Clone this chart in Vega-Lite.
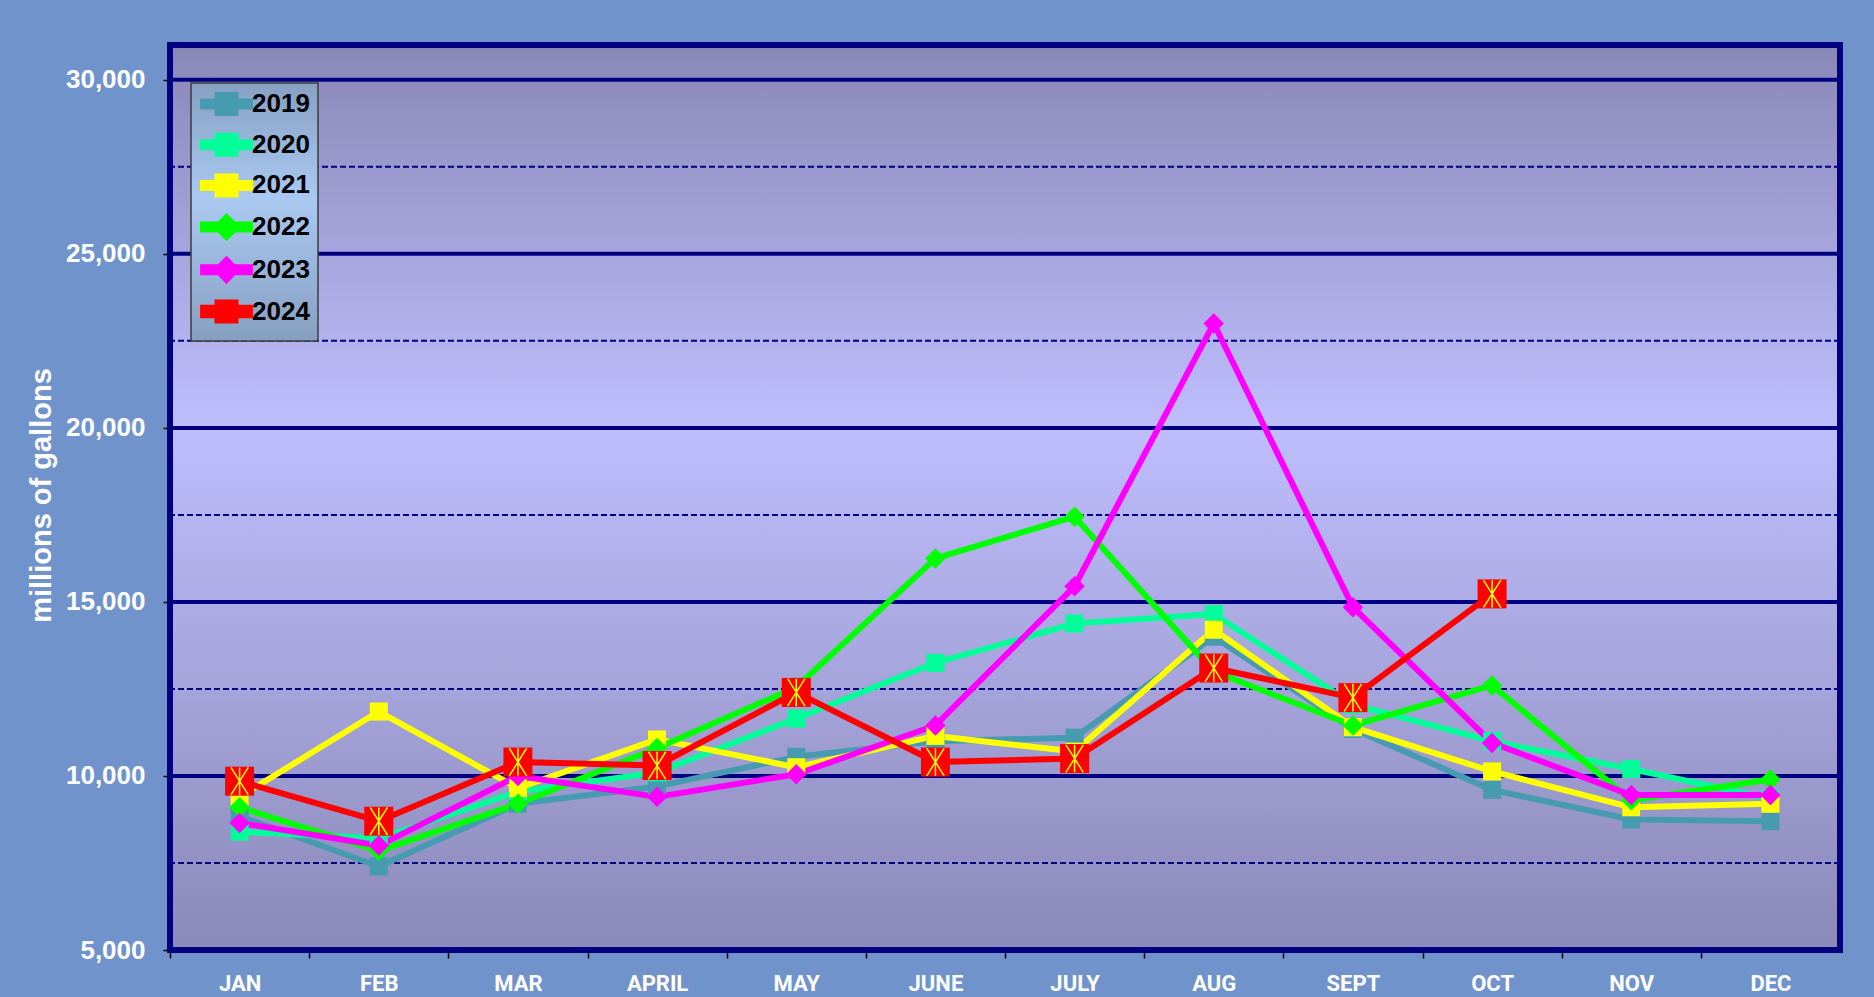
{
  "$schema": "https://vega.github.io/schema/vega-lite/v6.json",
  "width": 1670,
  "height": 905,
  "autosize": {"type": "none"},
  "padding": {"left": 170, "top": 45, "right": 34, "bottom": 47},
  "background": "#7093cc",
  "config": {"view": {"stroke": null}, "font": "Liberation Sans"},
  "datasets": {
    "water": [
      {"month": "JAN", "year": "2019", "value": 8850},
      {"month": "FEB", "year": "2019", "value": 7400},
      {"month": "MAR", "year": "2019", "value": 9200},
      {"month": "APRIL", "year": "2019", "value": 9700},
      {"month": "MAY", "year": "2019", "value": 10550},
      {"month": "JUNE", "year": "2019", "value": 11000},
      {"month": "JULY", "year": "2019", "value": 11100},
      {"month": "AUG", "year": "2019", "value": 14000},
      {"month": "SEPT", "year": "2019", "value": 11350},
      {"month": "OCT", "year": "2019", "value": 9600},
      {"month": "NOV", "year": "2019", "value": 8750},
      {"month": "DEC", "year": "2019", "value": 8700},
      {"month": "JAN", "year": "2020", "value": 8400},
      {"month": "FEB", "year": "2020", "value": 8200},
      {"month": "MAR", "year": "2020", "value": 9550},
      {"month": "APRIL", "year": "2020", "value": 10100},
      {"month": "MAY", "year": "2020", "value": 11650},
      {"month": "JUNE", "year": "2020", "value": 13250},
      {"month": "JULY", "year": "2020", "value": 14380},
      {"month": "AUG", "year": "2020", "value": 14650},
      {"month": "SEPT", "year": "2020", "value": 12050},
      {"month": "OCT", "year": "2020", "value": 11000},
      {"month": "NOV", "year": "2020", "value": 10200},
      {"month": "DEC", "year": "2020", "value": 9350},
      {"month": "JAN", "year": "2021", "value": 9400},
      {"month": "FEB", "year": "2021", "value": 11850},
      {"month": "MAR", "year": "2021", "value": 9650},
      {"month": "APRIL", "year": "2021", "value": 11050},
      {"month": "MAY", "year": "2021", "value": 10250},
      {"month": "JUNE", "year": "2021", "value": 11150},
      {"month": "JULY", "year": "2021", "value": 10700},
      {"month": "AUG", "year": "2021", "value": 14200},
      {"month": "SEPT", "year": "2021", "value": 11400},
      {"month": "OCT", "year": "2021", "value": 10130},
      {"month": "NOV", "year": "2021", "value": 9100},
      {"month": "DEC", "year": "2021", "value": 9200},
      {"month": "JAN", "year": "2022", "value": 9100},
      {"month": "FEB", "year": "2022", "value": 7850},
      {"month": "MAR", "year": "2022", "value": 9200},
      {"month": "APRIL", "year": "2022", "value": 10800},
      {"month": "MAY", "year": "2022", "value": 12550},
      {"month": "JUNE", "year": "2022", "value": 16250},
      {"month": "JULY", "year": "2022", "value": 17450},
      {"month": "AUG", "year": "2022", "value": 13000},
      {"month": "SEPT", "year": "2022", "value": 11450},
      {"month": "OCT", "year": "2022", "value": 12600},
      {"month": "NOV", "year": "2022", "value": 9300},
      {"month": "DEC", "year": "2022", "value": 9900},
      {"month": "JAN", "year": "2023", "value": 8650},
      {"month": "FEB", "year": "2023", "value": 8000},
      {"month": "MAR", "year": "2023", "value": 10000},
      {"month": "APRIL", "year": "2023", "value": 9400},
      {"month": "MAY", "year": "2023", "value": 10050},
      {"month": "JUNE", "year": "2023", "value": 11450},
      {"month": "JULY", "year": "2023", "value": 15450},
      {"month": "AUG", "year": "2023", "value": 23000},
      {"month": "SEPT", "year": "2023", "value": 14850},
      {"month": "OCT", "year": "2023", "value": 10950},
      {"month": "NOV", "year": "2023", "value": 9450},
      {"month": "DEC", "year": "2023", "value": 9450},
      {"month": "JAN", "year": "2024", "value": 9850},
      {"month": "FEB", "year": "2024", "value": 8700},
      {"month": "MAR", "year": "2024", "value": 10400},
      {"month": "APRIL", "year": "2024", "value": 10300},
      {"month": "MAY", "year": "2024", "value": 12400},
      {"month": "JUNE", "year": "2024", "value": 10400},
      {"month": "JULY", "year": "2024", "value": 10500},
      {"month": "AUG", "year": "2024", "value": 13100},
      {"month": "SEPT", "year": "2024", "value": 12250},
      {"month": "OCT", "year": "2024", "value": 15230}
    ]
  },
  "layer": [
    {
      "data": {"values": [{"band": "plot"}]},
      "mark": {
        "type": "rect",
        "fill": {
          "gradient": "linear", "x1": 0, "y1": 0, "x2": 0, "y2": 1,
          "stops": [
            {"offset": 0, "color": "#8987b7"},
            {"offset": 0.42, "color": "#bebefd"},
            {"offset": 1, "color": "#8b89b8"}
          ]
        }
      },
      "encoding": {
        "y": {"datum": 5000, "type": "quantitative"},
        "y2": {"datum": 31000}
      }
    },
    {
      "data": {"values": [{"g": 7500}, {"g": 12500}, {"g": 17500}, {"g": 22500}, {"g": 27500}]},
      "mark": {"type": "rule", "color": "#000080", "strokeWidth": 2, "strokeDash": [6, 3]},
      "encoding": {"y": {"field": "g", "type": "quantitative"}}
    },
    {
      "data": {"values": [{"g": 10000}, {"g": 15000}, {"g": 20000}, {"g": 25000}, {"g": 30000}]},
      "mark": {"type": "rule", "color": "#000080", "strokeWidth": 4},
      "encoding": {"y": {"field": "g", "type": "quantitative"}}
    },
    {
      "data": {"name": "water"},
      "transform": [{"filter": "datum.year != '2024'"}],
      "mark": {"type": "line", "strokeJoin": "round", "strokeCap": "round"},
      "encoding": {
        "x": {
          "field": "month", "type": "ordinal",
          "scale": {"type": "point", "padding": 0.5, "domain": ["JAN", "FEB", "MAR", "APRIL", "MAY", "JUNE", "JULY", "AUG", "SEPT", "OCT", "NOV", "DEC"]},
          "axis": {
            "title": null, "labelFont": "Roboto", "labelFontSize": 22,
            "labelFontWeight": "bold", "labelColor": "white", "labelAngle": 0,
            "tickSize": 8, "tickColor": "black", "tickWidth": 1.5,
            "tickOffset": -69.58, "labelOffset": 69.58,
            "labelPadding": 32, "labelBaseline": "alphabetic",
            "domain": false, "grid": false
          }
        },
        "y": {
          "field": "value", "type": "quantitative",
          "scale": {"domain": [5000, 31000], "nice": false, "zero": false},
          "axis": {
            "values": [5000, 10000, 15000, 20000, 25000, 30000], "format": ",",
            "labelExpr": "format(datum.value, ',')",
            "labelFont": "Liberation Sans", "labelFontSize": 26, "labelFontWeight": "bold",
            "labelColor": "white", "labelPadding": 18,
            "tickSize": 7, "tickColor": "black", "tickWidth": 1.5,
            "domain": false, "grid": false,
            "title": "millions of gallons", "titleFont": "Liberation Sans", "titleFontSize": 29,
            "titleFontWeight": "bold", "titleColor": "white",
            "titleX": -129, "titleY": 450, "titleAngle": 270, "titleAlign": "center", "titleBaseline": "middle"
          }
        },
        "color": {
          "field": "year", "type": "nominal",
          "scale": {"domain": ["2019", "2020", "2021", "2022", "2023", "2024"], "range": ["#469bb0", "#00ff99", "#ffff00", "#00ff00", "#ff00ff", "#ff0000"]}
        },
        "strokeWidth": {
          "field": "year", "type": "nominal", "legend": null,
          "scale": {"domain": ["2019", "2020", "2021", "2022", "2023", "2024"], "range": [6, 6, 6, 6, 6, 9]}
        }
      }
    },
    {
      "data": {"name": "water"},
      "transform": [{"filter": "datum.year == '2019' || datum.year == '2020' || datum.year == '2021'"}],
      "mark": {"type": "point", "filled": true, "opacity": 1, "strokeWidth": 0, "shape": "square", "size": 324},
      "encoding": {
        "x": {"field": "month", "type": "ordinal"},
        "y": {"field": "value", "type": "quantitative"},
        "color": {"field": "year", "type": "nominal"}
      }
    },
    {
      "data": {"name": "water"},
      "transform": [{"filter": "datum.year == '2022' || datum.year == '2023'"}],
      "mark": {"type": "point", "filled": true, "opacity": 1, "strokeWidth": 0, "shape": "diamond", "size": 420},
      "encoding": {
        "x": {"field": "month", "type": "ordinal"},
        "y": {"field": "value", "type": "quantitative"},
        "color": {"field": "year", "type": "nominal"}
      }
    },
    {
      "data": {"name": "water"},
      "transform": [{"filter": "datum.year == '2024'"}],
      "mark": {"type": "line", "strokeJoin": "round", "strokeCap": "round"},
      "encoding": {
        "x": {"field": "month", "type": "ordinal"},
        "y": {"field": "value", "type": "quantitative"},
        "color": {"field": "year", "type": "nominal"},
        "strokeWidth": {"field": "year", "type": "nominal", "legend": null}
      }
    },
    {
      "data": {"name": "water"},
      "transform": [{"filter": "datum.year == '2024'"}],
      "mark": {"type": "point", "filled": true, "opacity": 1, "strokeWidth": 0, "size": 841, "shape": "square"},
      "encoding": {
        "x": {"field": "month", "type": "ordinal"},
        "y": {"field": "value", "type": "quantitative"},
        "color": {"field": "year", "type": "nominal"}
      }
    },
    {
      "data": {"name": "water"},
      "transform": [{"filter": "datum.year == '2024'"}],
      "mark": {"type": "point", "filled": false, "opacity": 1, "stroke": "#ffff00", "strokeWidth": 1.5, "size": 841,
        "shape": "M0,-0.95L0,0.95M-0.6,-0.95L0.6,0.95M0.6,-0.95L-0.6,0.95"},
      "encoding": {
        "x": {"field": "month", "type": "ordinal"},
        "y": {"field": "value", "type": "quantitative"}
      }
    },
    {
      "data": {"name": "water"},
      "transform": [{"filter": "datum.year == 'none'"}],
      "mark": {"type": "point", "filled": true, "opacity": 1, "strokeWidth": 0, "size": 324},
      "encoding": {
        "x": {"field": "month", "type": "ordinal"},
        "y": {"field": "value", "type": "quantitative"},
        "color": {
          "field": "year", "type": "nominal",
          "legend": {
            "title": null, "orient": "none", "legendX": 21, "legendY": 38,
            "padding": 8, "rowPadding": -1.3,
            "fillColor": "#9fbbe2",
            "labelFont": "Liberation Sans", "labelFontSize": 26, "labelFontWeight": "bold", "labelColor": "black",
            "symbolSize": 324, "symbolOffset": 14.5, "labelOffset": 12.5, "symbolOpacity": 1, "symbolStrokeWidth": 0,
            "encode": {
              "legend": {"update": {
                "fill": {"value": {"gradient": "linear", "x1": 0, "y1": 0, "x2": 0, "y2": 1, "stops": [{"offset": 0, "color": "#87a0c2"}, {"offset": 0.45, "color": "#aac9f2"}, {"offset": 1, "color": "#869fc0"}]}},
                "stroke": {"value": "#3c3c3c"},
                "strokeWidth": {"value": 1.5}
              }}
            }
          }
        },
        "shape": {
          "field": "year", "type": "nominal",
          "scale": {
            "domain": ["2019", "2020", "2021", "2022", "2023", "2024"],
            "range": [
              "M-2.6,-0.28H-1V-1H1V-0.28H2.6V0.28H1V1H-1V0.28H-2.6Z",
              "M-2.6,-0.28H-1V-1H1V-0.28H2.6V0.28H1V1H-1V0.28H-2.6Z",
              "M-2.6,-0.28H-1V-1H1V-0.28H2.6V0.28H1V1H-1V0.28H-2.6Z",
              "M-2.6,-0.28H-0.82L0,-1.1L0.82,-0.28H2.6V0.28H0.82L0,1.1L-0.82,0.28H-2.6Z",
              "M-2.6,-0.28H-0.82L0,-1.1L0.82,-0.28H2.6V0.28H0.82L0,1.1L-0.82,0.28H-2.6Z",
              "M-2.6,-0.42H-1V-1H1V-0.42H2.6V0.42H1V1H-1V0.42H-2.6Z"
            ]
          },
          "legend": {
            "title": null, "orient": "none", "legendX": 21, "legendY": 38,
            "padding": 8, "rowPadding": -1.3,
            "fillColor": "#9fbbe2",
            "labelFont": "Liberation Sans", "labelFontSize": 26, "labelFontWeight": "bold", "labelColor": "black",
            "symbolSize": 324, "symbolOffset": 14.5, "labelOffset": 12.5, "symbolOpacity": 1, "symbolStrokeWidth": 0,
            "encode": {
              "legend": {"update": {
                "fill": {"value": {"gradient": "linear", "x1": 0, "y1": 0, "x2": 0, "y2": 1, "stops": [{"offset": 0, "color": "#87a0c2"}, {"offset": 0.45, "color": "#aac9f2"}, {"offset": 1, "color": "#869fc0"}]}},
                "stroke": {"value": "#3c3c3c"},
                "strokeWidth": {"value": 1.5}
              }}
            }
          }
        }
      }
    },
    {
      "data": {"values": [{"band": "frame"}]},
      "mark": {"type": "rect", "filled": false, "stroke": "#000080", "strokeWidth": 6},
      "encoding": {
        "y": {"datum": 5000, "type": "quantitative"},
        "y2": {"datum": 31000}
      }
    }
  ]
}
